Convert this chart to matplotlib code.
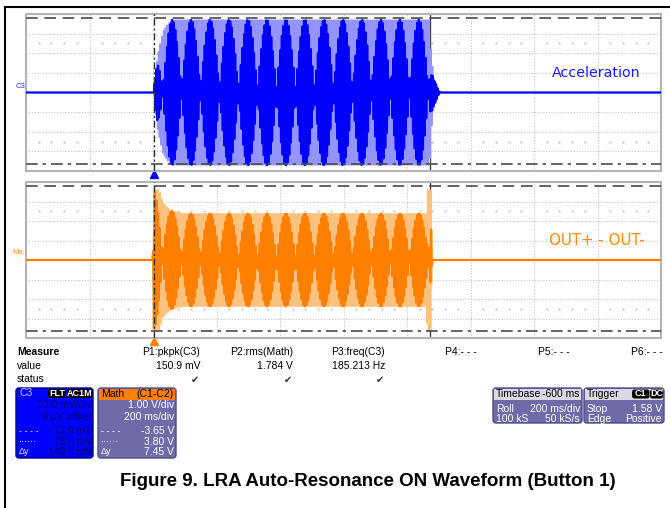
import numpy as np
import matplotlib
matplotlib.use("Agg")
import matplotlib.pyplot as plt
from matplotlib.patches import FancyBboxPatch, Rectangle
from matplotlib.lines import Line2D
from matplotlib.transforms import blended_transform_factory

# ---- data (time in s from left edge of screen) ----
freq_hz = 185.213          # P3:freq(C3)
trigger_t = 0.403          # trigger cursor
cursor_t = 1.272           # second time cursor

acc_t = [0.403, 0.406, 0.413, 0.422, 0.431, 0.447, 0.460, 1.272, 1.276, 1.285, 1.298, 1.304]
acc_env = [0, 12, 36, 49, 62, 70, 74, 74, 40, 15, 3, 0]          # mV
acc_cursors = [76.0, -73.0]                                        # mV

out_t = [0.400, 0.403, 0.420, 0.431, 0.454, 0.476, 0.501, 1.260, 1.263, 1.276, 1.279]
out_env = [0, 3.6, 3.6, 2.95, 2.55, 2.45, 2.38, 2.38, 3.6, 3.6, 0]   # V
out_cursors = [3.80, -3.65]                                        # V

measure_names = ["P1:pkpk(C3)", "P2:rms(Math)", "P3:freq(C3)", "P4:- - -", "P5:- - -", "P6:- - -"]
measure_values = ["150.9 mV", "1.784 V", "185.213 Hz", "", "", ""]
measure_ok = [True, True, True, False, False, False]

W, H = 670, 508
fig = plt.figure(figsize=(W / 100, H / 100), dpi=100)
fig.patch.set_facecolor("white")

UI = "Liberation Sans"


def rect(x0, y0, x1, y1):
    return [x0 / W, 1 - y1 / H, (x1 - x0) / W, (y1 - y0) / H]


def trace(ax, t_env, env, dark, pale):
    # scope-style rendering: dense trace in pale colour, decimated (aliased) trace on top
    tp = np.arange(0.38, 1.33, 1 / 20000)
    ax.plot(tp, np.interp(tp, t_env, env, left=0, right=0) * np.sin(2 * np.pi * freq_hz * tp),
            color=pale, lw=0.9, zorder=3)
    fd = 2 * (freq_hz + 8.36)
    td = np.arange(0, 2, 1 / fd)
    ax.plot(td, np.interp(td, t_env, env, left=0, right=0) * np.sin(2 * np.pi * freq_hz * td + 0.6),
            color=dark, lw=1.6, zorder=4)


def scope_axes(r, div, t_env, env, cursors, dark, pale):
    ax = fig.add_axes(r)
    ax.set_xlim(0, 2)
    ax.set_ylim(-4 * div, 4 * div)
    ax.set_xticks(np.arange(0, 2.01, 0.2))
    ax.set_yticks(np.arange(-4, 4.01, 1) * div)
    ax.tick_params(length=0, labelbottom=False, labelleft=False)
    ax.grid(True, color="#c4c4c4", lw=0.8, ls=(0, (1, 1.5)))
    for s in ax.spines.values():
        s.set_color("#b4b4b4")
        s.set_linewidth(1.5)
    # graticule minor dots
    mx = [x for x in np.arange(0.04, 2, 0.04) if abs(x / 0.2 - round(x / 0.2)) > 0.01]
    for yy in (2.5 * div, -2.5 * div):
        ax.plot(mx, [yy] * len(mx), ls="none", marker="s", ms=0.7, color="#cfcfcf", zorder=1)
    trace(ax, t_env, env, dark, pale)
    ax.axhline(cursors[0], color="#4a4a4a", lw=1.2, ls=(0, (7, 4)), zorder=5)
    ax.axhline(cursors[1], color="#4a4a4a", lw=1.2, ls=(0, (7, 3, 2, 3)), zorder=5)
    ax.axvline(trigger_t, color="#303030", lw=1.0, ls=(0, (5, 2, 1.5, 2)), zorder=5)
    ax.axvline(cursor_t, color="#404040", lw=1.0, zorder=2)
    tr = blended_transform_factory(ax.transData, ax.transAxes)
    ax.plot([trigger_t], [-0.022], marker="^", ms=6, color=dark, transform=tr, clip_on=False)
    return ax


ax1 = scope_axes(rect(26, 14, 661, 171), 20, acc_t, acc_env, acc_cursors, "#0000ff", "#9494ff")
ax2 = scope_axes(rect(26, 182, 661, 338), 1, out_t, out_env, out_cursors, "#ff8000", "#ffc27e")

ax1.text(0.828, 0.624, "Acceleration", transform=ax1.transAxes, color="#1a1aff",
         fontsize=10.3, family="DejaVu Sans", va="center")
ax2.text(0.823, 0.622, "OUT+ - OUT-", transform=ax2.transAxes, color="#ff8c00",
         fontsize=10.8, family="DejaVu Sans", va="center")

# ---- overlay in pixel coordinates for the scope UI ----
ui = fig.add_axes([0, 0, 1, 1])
ui.set_xlim(0, W)
ui.set_ylim(H, 0)
ui.axis("off")

ui.add_line(Line2D([5, W], [7, 7], color="black", lw=1.5))
ui.add_line(Line2D([5, 5], [7, H], color="black", lw=1.5))

ui.text(16, 86, "C3", color="#3030ff", fontsize=5.5, family=UI, va="center")
ui.text(12, 253, "Ma.", color="#ff8c00", fontsize=5.5, family=UI, va="center")

# measure table
ui.text(17, 352, "Measure", fontsize=7.5, family=UI, weight="bold", va="center")
ui.text(17, 366, "value", fontsize=7.5, family=UI, va="center")
ui.text(17, 379, "status", fontsize=7.5, family=UI, va="center")
col_right = [200, 293, 385, 477, 570, 663]
for xr, name, val, ok in zip(col_right, measure_names, measure_values, measure_ok):
    ui.text(xr, 352, name, fontsize=7.5, family=UI, ha="right", va="center")
    ui.text(xr, 366, val, fontsize=7.5, family=UI, ha="right", va="center")
    if ok:
        ui.text(xr - 1, 380, "\u2714", fontsize=7, family="DejaVu Sans", ha="right",
                va="center", color="#333333")


def box(x0, y0, w, h, fc, ec):
    ui.add_patch(FancyBboxPatch((x0, y0), w, h, boxstyle="round,pad=0,rounding_size=3",
                                fc=fc, ec=ec, lw=1))


def tag(x0, x1, y, s):
    ui.add_patch(FancyBboxPatch((x0, y - 4.5), x1 - x0, 9, boxstyle="round,pad=0,rounding_size=2.5",
                                fc="black", ec="none"))
    ui.text((x0 + x1) / 2, y, s, fontsize=6.5, family=UI, color="white", ha="center",
            va="center", weight="bold")


fs = 7.5
rows_y = [405, 417, 431, 442, 452]

# C3 box
box(16, 388, 77, 70, "#0000ff", "#00008a")
ui.text(19, 393.5, "C3", fontsize=fs, family=UI, color="#c8c8ff", va="center")
tag(48, 66, 393.5, "FLT")
tag(67, 92.5, 393.5, "AC1M")
for y, s in zip(rows_y, ["20.0 mV/div", "0 \u00b5V offset", "-73.0 mV", "76.0 mV", "149.0 mV"]):
    ui.text(92, y, s, fontsize=fs, family=UI, color="#00006a", ha="right", va="center")
for y, s in zip(rows_y[2:], ["- - - -", "\u00b7\u00b7\u00b7\u00b7\u00b7\u00b7", "\u0394y"]):
    ui.text(19, y, s, fontsize=fs - 1, family=UI, color="#dcdcff", va="center")

# Math box
purple = "#6f6aa8"
box(98, 388, 78, 70, purple, "#514c8a")
ui.add_patch(Rectangle((99, 389), 76, 10.5, fc="#ff8000", ec="none"))
ui.text(101, 394, "Math", fontsize=fs, family=UI, va="center")
ui.text(174, 394, "(C1-C2)", fontsize=fs, family=UI, ha="right", va="center")
for y, s in zip(rows_y, ["1.00 V/div", "200 ms/div", "-3.65 V", "3.80 V", "7.45 V"]):
    ui.text(174, y, s, fontsize=fs, family=UI, color="white", ha="right", va="center")
for y, s in zip(rows_y[2:], ["- - - -", "\u00b7\u00b7\u00b7\u00b7\u00b7\u00b7", "\u0394y"]):
    ui.text(101, y, s, fontsize=fs - 1, family=UI, color="white", va="center")

# Timebase box
box(493, 388, 89, 35, purple, "#514c8a")
ui.add_patch(Rectangle((494, 389), 87, 10.5, fc="#d9d9e2", ec="none"))
ui.text(496, 394, "Timebase", fontsize=fs, family=UI, va="center")
ui.text(580, 394, "-600 ms", fontsize=fs, family=UI, ha="right", va="center")
for y, l, r in [(409, "Roll", "200 ms/div"), (419.5, "100 kS", "50 kS/s")]:
    ui.text(496, y, l, fontsize=fs, family=UI, color="white", va="center")
    ui.text(580, y, r, fontsize=fs, family=UI, color="white", ha="right", va="center")

# Trigger box
box(584, 388, 80, 35, purple, "#514c8a")
ui.add_patch(Rectangle((585, 389), 78, 10.5, fc="#d9d9e2", ec="none"))
ui.text(587, 394, "Trigger", fontsize=fs, family=UI, va="center")
tag(632, 649.5, 394, "C1")
tag(650, 663, 394, "DC")
for y, l, r in [(409, "Stop", "1.58 V"), (419.5, "Edge", "Positive")]:
    ui.text(587, y, l, fontsize=fs, family=UI, color="white", va="center")
    ui.text(662, y, r, fontsize=fs, family=UI, color="white", ha="right", va="center")

ui.text(368, 481, "Figure 9. LRA Auto-Resonance ON Waveform (Button 1)", fontsize=13.5,
        family=UI, weight="bold", ha="center", va="center")

fig.savefig("out.png", dpi=100)
